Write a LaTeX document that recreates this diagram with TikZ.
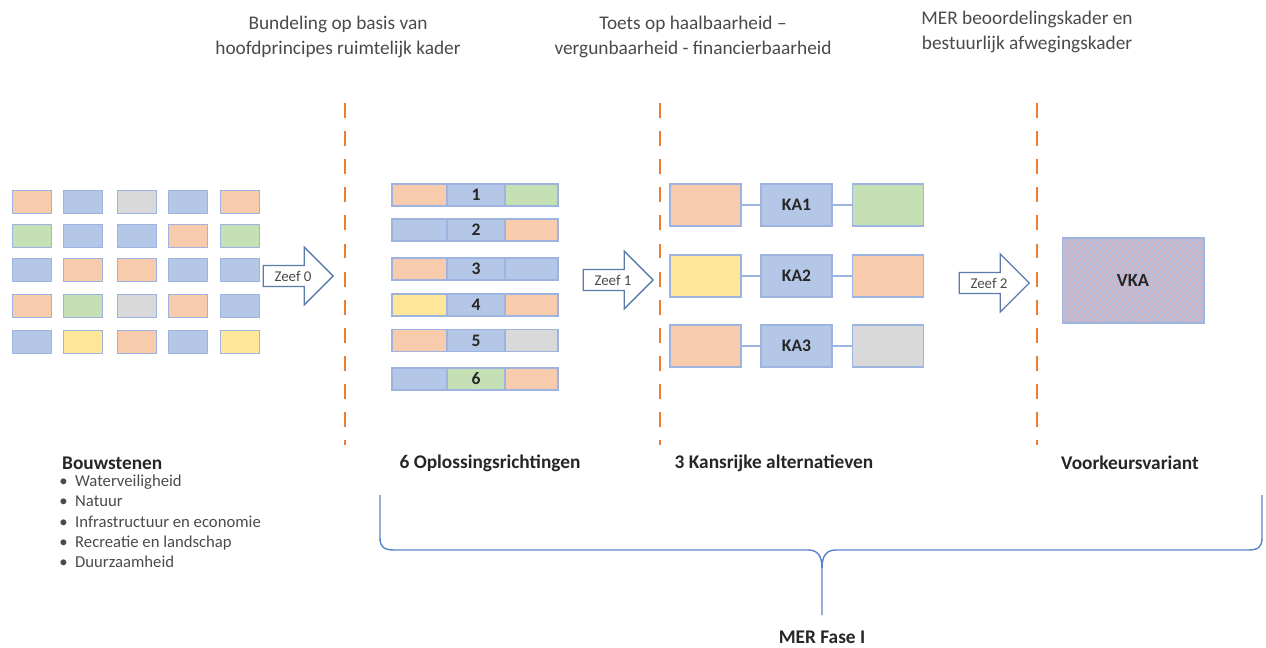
\documentclass[tikz,border=0pt]{standalone}
\usepackage{fontspec}
\setmainfont{Carlito}
\usetikzlibrary{shapes.arrows}
\usetikzlibrary{patterns.meta}

\definecolor{orng}{HTML}{F8CBAD}
\definecolor{blu}{HTML}{B4C7E7}
\definecolor{gry}{HTML}{D9D9D9}
\definecolor{grn}{HTML}{C5E0B4}
\definecolor{ylw}{HTML}{FFE699}
\definecolor{celline}{HTML}{9DB4DE}
\definecolor{zeefline}{HTML}{5B7BAA}
\definecolor{sievecol}{HTML}{ED7D31}
\definecolor{bracecol}{HTML}{5B84C8}
\definecolor{hatchcol}{HTML}{D9B3BC}
\definecolor{vkafill}{HTML}{AEBFE3}
\definecolor{darktext}{HTML}{262626}
\definecolor{graytext}{HTML}{4A4A4A}

\tikzset{
  cell/.style={draw=celline, line width=0.6pt, inner sep=0pt, minimum width=0.78cm, minimum height=0.46cm},
  seg/.style={draw=celline, line width=0.6pt, inner sep=0pt, minimum height=0.44cm, text=darktext, font=\bfseries\fontsize{10}{12}\selectfont},
  kabox/.style={draw=celline, line width=0.6pt, inner sep=0pt, minimum width=1.42cm, minimum height=0.84cm, text=darktext, font=\bfseries\fontsize{10}{12}\selectfont},
  link/.style={draw=celline, line width=0.8pt},
  zeef/.style={single arrow, draw=zeefline, line width=0.8pt, fill=white, minimum height=1.4cm, minimum width=1.16cm, single arrow head extend=0.27cm, inner sep=1pt, text=graytext, font=\fontsize{8.5}{10}\selectfont},
  sieve/.style={draw=sievecol, line width=1.5pt, dash pattern=on 8.5pt off 7.5pt},
  heading/.style={align=center, text=graytext, font=\fontsize{11}{14.2}\selectfont},
  phaselabel/.style={text=darktext, font=\bfseries\fontsize{11}{13}\selectfont},
  brace/.style={draw=bracecol, line width=0.8pt},
  vkabox/.style={draw=celline, line width=0.6pt, preaction={fill=vkafill}, pattern={Lines[angle=45, distance=2.4pt, line width=1.1pt]}, pattern color=hatchcol, minimum width=2.84cm, minimum height=1.7cm, text=darktext, font=\bfseries\fontsize{10.5}{12}\selectfont},
}

\begin{document}
\begin{tikzpicture}[x=0.02cm, y=-0.02cm]
    \useasboundingbox (0,0) rectangle (1266,648);

    % headings
    \node[heading] (h1) at (338,37) {Bundeling op basis van\\hoofdprincipes ruimtelijk kader};
    \node[heading] (h2) at (693,37) {Toets op haalbaarheid --\\vergunbaarheid - financierbaarheid};
    \node[heading] (h3) at (1027,32) {MER beoordelingskader en\\bestuurlijk afwegingskader};

    % sieves
    \draw[sieve] (345,103) -- (345,445);
    \draw[sieve] (660,103) -- (660,445);
    \draw[sieve] (1037,103) -- (1037,445);

    % bouwstenen
    \node[cell, fill=orng] (b11) at (32,202) {};
    \node[cell, fill=blu] (b12) at (83,202) {};
    \node[cell, fill=gry] (b13) at (137,202) {};
    \node[cell, fill=blu] (b14) at (188,202) {};
    \node[cell, fill=orng] (b15) at (240,202) {};
    \node[cell, fill=grn] (b21) at (32,236) {};
    \node[cell, fill=blu] (b22) at (83,236) {};
    \node[cell, fill=blu] (b23) at (137,236) {};
    \node[cell, fill=orng] (b24) at (188,236) {};
    \node[cell, fill=grn] (b25) at (240,236) {};
    \node[cell, fill=blu] (b31) at (32,270) {};
    \node[cell, fill=orng] (b32) at (83,270) {};
    \node[cell, fill=orng] (b33) at (137,270) {};
    \node[cell, fill=blu] (b34) at (188,270) {};
    \node[cell, fill=blu] (b35) at (240,270) {};
    \node[cell, fill=orng] (b41) at (32,306) {};
    \node[cell, fill=grn] (b42) at (83,306) {};
    \node[cell, fill=gry] (b43) at (137,306) {};
    \node[cell, fill=orng] (b44) at (188,306) {};
    \node[cell, fill=blu] (b45) at (240,306) {};
    \node[cell, fill=blu] (b51) at (32,342) {};
    \node[cell, fill=ylw] (b52) at (83,342) {};
    \node[cell, fill=orng] (b53) at (137,342) {};
    \node[cell, fill=blu] (b54) at (188,342) {};
    \node[cell, fill=ylw] (b55) at (240,342) {};

    % oplossingsrichtingen
    \node[seg, fill=orng, minimum width=1.1cm] (o1a) at (419.5,195) {};
    \node[seg, fill=blu, minimum width=1.16cm] (o1) at (476,195) {1};
    \node[seg, fill=grn, minimum width=1.06cm] (o1b) at (531.5,195) {};
    \node[seg, fill=blu, minimum width=1.1cm] (o2a) at (419.5,230) {};
    \node[seg, fill=blu, minimum width=1.16cm] (o2) at (476,230) {2};
    \node[seg, fill=orng, minimum width=1.06cm] (o2b) at (531.5,230) {};
    \node[seg, fill=orng, minimum width=1.1cm] (o3a) at (419.5,269) {};
    \node[seg, fill=blu, minimum width=1.16cm] (o3) at (476,269) {3};
    \node[seg, fill=blu, minimum width=1.06cm] (o3b) at (531.5,269) {};
    \node[seg, fill=ylw, minimum width=1.1cm] (o4a) at (419.5,305) {};
    \node[seg, fill=blu, minimum width=1.16cm] (o4) at (476,305) {4};
    \node[seg, fill=orng, minimum width=1.06cm] (o4b) at (531.5,305) {};
    \node[seg, fill=orng, minimum width=1.1cm] (o5a) at (419.5,340.5) {};
    \node[seg, fill=blu, minimum width=1.16cm] (o5) at (476,340.5) {5};
    \node[seg, fill=gry, minimum width=1.06cm] (o5b) at (531.5,340.5) {};
    \node[seg, fill=blu, minimum width=1.1cm] (o6a) at (419.5,379) {};
    \node[seg, fill=grn, minimum width=1.16cm] (o6) at (476,379) {6};
    \node[seg, fill=orng, minimum width=1.06cm] (o6b) at (531.5,379) {};

    % kansrijke alternatieven
    \node[kabox, fill=orng] (ka1l) at (705.5,205) {};
    \node[kabox, fill=blu] (ka1) at (796.5,205) {KA1};
    \node[kabox, fill=grn] (ka1r) at (888,205) {};
    \node[kabox, fill=ylw] (ka2l) at (705.5,276) {};
    \node[kabox, fill=blu] (ka2) at (796.5,276) {KA2};
    \node[kabox, fill=orng] (ka2r) at (888,276) {};
    \node[kabox, fill=orng] (ka3l) at (705.5,346) {};
    \node[kabox, fill=blu] (ka3) at (796.5,346) {KA3};
    \node[kabox, fill=gry] (ka3r) at (888,346) {};

    \draw[link] (ka1l) -- (ka1) -- (ka1r);
    \draw[link] (ka2l) -- (ka2) -- (ka2r);
    \draw[link] (ka3l) -- (ka3) -- (ka3r);

    % voorkeursvariant
    \node[vkabox] (vka) at (1133,280.5) {VKA};

    % zeven
    \node[zeef] (z0) at (293,276) {Zeef 0};
    \node[zeef] (z1) at (613,280) {Zeef 1};
    \node[zeef] (z2) at (989,283) {Zeef 2};

    % labels
    \node[phaselabel, anchor=west] (bouw) at (56,463) {Bouwstenen};
    \node[anchor=north west, align=left, inner sep=0pt, text=graytext, font=\fontsize{9.5}{11.4}\selectfont] (items) at (59,475)
      {\makebox[9pt][l]{\textbullet}Waterveiligheid\\
       \makebox[9pt][l]{\textbullet}Natuur\\
       \makebox[9pt][l]{\textbullet}Infrastructuur en economie\\
       \makebox[9pt][l]{\textbullet}Recreatie en landschap\\
       \makebox[9pt][l]{\textbullet}Duurzaamheid};
    \node[phaselabel] (opl) at (490,463) {6 Oplossingsrichtingen};
    \node[phaselabel] (kans) at (774,463) {3 Kansrijke alternatieven};
    \node[phaselabel] (voork) at (1130,463) {Voorkeursvariant};

    % MER fase I
    \coordinate (tip) at (822,615);
    \draw[brace] (380,495) -- (380,538) .. controls (380,547) and (384,550) .. (394,550) -- (808,550) .. controls (817,550) and (822,555) .. (822,568) -- (tip);
    \draw[brace] (1262,495) -- (1262,538) .. controls (1262,547) and (1258,550) .. (1248,550) -- (836,550) .. controls (827,550) and (822,555) .. (822,568);
    \node[phaselabel] (mer) at (822,637) {MER Fase I};
  \end{tikzpicture}
\end{document}
